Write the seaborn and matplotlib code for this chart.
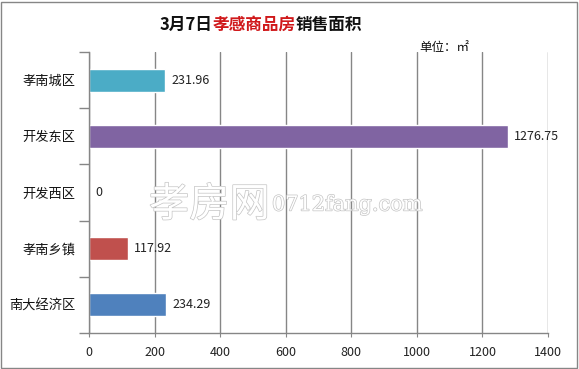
import matplotlib
matplotlib.use("Agg")
import matplotlib.pyplot as plt
import matplotlib.patheffects as pe
import seaborn as sns
import pandas as pd

categories = ["孝南城区", "开发东区", "开发西区", "孝南乡镇", "南大经济区"]
values = [231.96, 1276.75, 0, 117.92, 234.29]
value_labels = ["231.96", "1276.75", "0", "117.92", "234.29"]
colors = ["#4BACC6", "#8064A2", "#9BBB59", "#C0504D", "#4F81BD"]
xticks = [0, 200, 400, 600, 800, 1000, 1200, 1400]

sns.set_style("white")
plt.rcParams["font.family"] = ["Noto Sans CJK SC", "DejaVu Sans"]

df = pd.DataFrame({"cat": categories, "val": values})

fig = plt.figure(figsize=(5.79, 3.69), dpi=100)
fig.patch.set_facecolor("white")
ax = fig.add_axes([89 / 579, 36 / 369, 459 / 579, 281 / 369])

sns.barplot(data=df, y="cat", x="val", hue="cat", palette=colors, order=categories,
            hue_order=categories, orient="h", width=0.41, legend=False, ax=ax, saturation=1)

for cont, lab in zip(ax.containers, value_labels):
    ax.bar_label(cont, labels=[lab], padding=4.5, fontsize=9, color="#222222")

ax.set_xlim(0, 1400)
ax.set_ylim(4.5, -0.5)
ax.set_xticks(xticks)
ax.set_xticklabels([str(t) for t in xticks], fontsize=9, color="#222222")
ax.set_yticks(range(len(categories)))
ax.set_yticklabels(categories, fontsize=9.5, color="#111111")
ax.tick_params(axis="y", which="major", left=False, length=0, pad=10)
ax.tick_params(axis="x", bottom=True, length=3, color="#868686", pad=6)
# category boundary ticks
ax.set_yticks([i - 0.5 for i in range(len(categories) + 1)], minor=True)
ax.tick_params(axis="y", which="minor", left=True, length=7, color="#868686", width=1)
ax.set_xlabel("")
ax.set_ylabel("")
ax.grid(axis="x", color="#868686", linewidth=1)
ax.set_axisbelow(True)
for s in ["top", "right"]:
    ax.spines[s].set_visible(False)
for s in ["left", "bottom"]:
    ax.spines[s].set_color("#868686")
    ax.spines[s].set_linewidth(1)

# title pieces
fig.canvas.draw()
renderer = fig.canvas.get_renderer()
parts = [("3月7日", "#111111"), ("孝感商品房", "#D0191B"), ("销售面积", "#111111")]
texts = []
for s, c in parts:
    t = fig.text(0, 1 - 25 / 369, s, color=c, fontsize=12, fontweight="bold", va="center", ha="left")
    texts.append(t)
widths = [t.get_window_extent(renderer).width for t in texts]
total = sum(widths)
start = 261 - total / 2
for t, w in zip(texts, widths):
    t.set_x(start / 579)
    start += w

fig.text(444 / 579, 1 - 48 / 369, "单位：㎡", fontsize=9, color="#111111", ha="center", va="center")

# watermark
wm_fx = [pe.withStroke(linewidth=1.0, foreground="#C4C4C4")]
fig.text(149 / 579, 1 - 205 / 369, "孝房网", fontsize=29, color="white", ha="left", va="center",
         path_effects=wm_fx, zorder=10)
fig.text(272 / 579, 1 - 205 / 369, "0712fang.com", fontsize=15, color="white", ha="left", va="center",
         family=["DejaVu Serif"], path_effects=wm_fx, zorder=10)

# outer border
fig.add_artist(plt.Rectangle((1 / 579, 1 / 369), 576 / 579, 366 / 369, transform=fig.transFigure,
                             fill=False, edgecolor="#868686", linewidth=1))

fig.savefig("out.png", dpi=100)
